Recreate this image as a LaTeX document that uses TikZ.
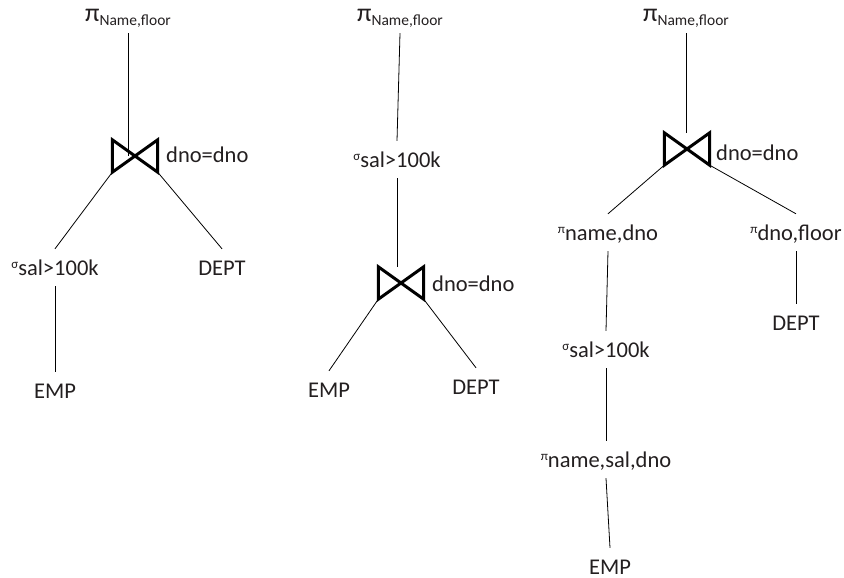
\documentclass[tikz,border=0pt]{standalone}
\usepackage{fontspec}
\setmainfont{Carlito}
\definecolor{txt}{RGB}{35,31,32}
\newcommand{\topproj}[1]{{\fontsize{26}{26}\selectfont π}\raisebox{-4pt}{\fontsize{15.5}{15.5}\selectfont #1}}
\newcommand{\smallop}[1]{\raisebox{7pt}{\fontsize{13}{13}\selectfont #1}}
\tikzset{
  lbl/.style={inner xsep=0pt, inner ysep=8pt, text height=18pt, text depth=3pt,
    anchor=base, text=txt, font=\fontsize{22.5}{26}\selectfont},
  cond/.style={lbl, anchor=base west},
  jnode/.style={minimum width=45pt, minimum height=32pt, inner sep=0pt},
  jline/.style={line width=3pt, line join=miter, black},
  conn/.style={line width=0.8pt, black}
}
\begin{document}
\begin{tikzpicture}[x=1pt,y=-1pt]
\useasboundingbox (0,0) rectangle (844,578);
% Tree 1
\node[lbl] (p1) at (128,22) {\topproj{Name,floor}};
\node[jnode] (j1) at (135,156) {};
\node[cond] (d1) at (166,162) {dno=dno};
\node[lbl] (s1) at (55,275) {\smallop{σ}sal>100k};
\node[lbl] (t1) at (222,275) {DEPT};
\node[lbl] (e1) at (55,398) {EMP};
% Tree 2
\node[lbl] (p2) at (400,22) {\topproj{Name,floor}};
\node[lbl] (s2) at (397,167) {\smallop{σ}sal>100k};
\node[jnode] (j2) at (401,283) {};
\node[cond] (d2) at (432,291) {dno=dno};
\node[lbl] (e2) at (329,397) {EMP};
\node[lbl] (t2) at (476,394) {DEPT};
% Tree 3
\node[lbl] (p3) at (686,22) {\topproj{Name,floor}};
\node[jnode] (j3) at (687,149) {};
\node[cond] (d3) at (716,160) {dno=dno};
\node[lbl] (n3) at (608,240) {\smallop{π}name,dno};
\node[lbl] (f3) at (796,240) {\smallop{π}dno,floor};
\node[lbl] (s3) at (606,357) {\smallop{σ}sal>100k};
\node[lbl] (m3) at (606,467) {\smallop{π}name,sal,dno};
\node[lbl] (e3) at (610,574) {EMP};
\node[lbl] (t3) at (796,330) {DEPT};
% join symbols
\foreach \j in {j1,j2,j3}
  \draw[jline] (\j.north west) -- (\j.south west) -- (\j.north east) -- (\j.south east) -- cycle;
% connectors tree 1
\draw[conn] (p1.south) -- (p1.south |- j1.center);
\draw[conn] (j1.south west) -- (s1.north);
\draw[conn] (j1.south east) -- (t1.north);
\draw[conn] (s1.south) -- (e1.north);
% connectors tree 2
\draw[conn] (p2.south) -- (s2.north);
\draw[conn] (s2.south) -- (s2.south |- j2.north);
\draw[conn] (j2.south west) -- (e2.north);
\draw[conn] (j2.south east) -- (t2.north);
% connectors tree 3
\draw[conn] (p3.south) -- (p3.south |- j3.north);
\draw[conn] (j3.south west) -- (n3.north);
\draw[conn] (j3.south east) -- (f3.north);
\draw[conn] (n3.south) -- (s3.north);
\draw[conn] (s3.south) -- (m3.north);
\draw[conn] (m3.south) -- (e3.north);
\draw[conn] (f3.south) -- (t3.north);
\end{tikzpicture}
\end{document}
